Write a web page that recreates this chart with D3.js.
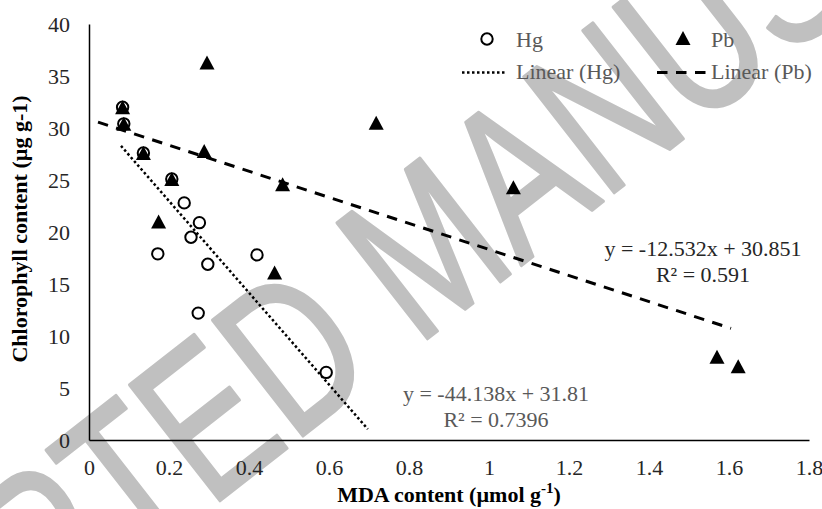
<!DOCTYPE html>
<html>
<head>
<meta charset="utf-8">
<script src="https://cdn.jsdelivr.net/npm/d3@7"></script>
<style>
  html, body { margin: 0; padding: 0; background: #fff; }
  svg { display: block; }
</style>
</head>
<body>
<div id="chart"></div>
<script>
// MDA content (x) vs chlorophyll content (y) for Hg- and Pb-treated samples
const hgX = [0.084, 0.087, 0.136, 0.207, 0.172, 0.238, 0.276, 0.255, 0.297, 0.420, 0.273, 0.593];
const hgY = [32.0, 30.4, 27.6, 25.1, 17.9, 22.8, 20.9, 19.5, 16.9, 17.8, 12.2, 6.5];

const pbX = [0.084, 0.087, 0.136, 0.207, 0.174, 0.288, 0.295, 0.464, 0.484, 0.718, 1.061, 1.570, 1.623];
const pbY = [32.0, 30.4, 27.6, 25.1, 21.0, 27.8, 36.3, 16.1, 24.6, 30.5, 24.3, 8.0, 7.1];

// Linear fits: [slope, intercept], R², and the x span each fit line covers
const hgFit = [-44.138, 31.81];
const hgR2 = "0.7396";
const hgFitSpan = [0.08, 0.697];
const pbFit = [-12.532, 30.851];
const pbR2 = "0.591";
const pbFitSpan = [0.0225, 1.605];

const xTicks = [0, 0.2, 0.4, 0.6, 0.8, 1, 1.2, 1.4, 1.6, 1.8];
const xTickLabels = ["0", "0.2", "0.4", "0.6", "0.8", "1", "1.2", "1.4", "1.6", "1.8"];
const yTicks = [0, 5, 10, 15, 20, 25, 30, 35, 40];
const yTickLabels = ["0", "5", "10", "15", "20", "25", "30", "35", "40"];

const seriesNames = ["Hg", "Pb"];

const W = 822, H = 509;
const serif = "'Liberation Serif', 'Times New Roman', serif";

const svg = d3.select("#chart").append("svg")
  .attr("width", W).attr("height", H)
  .attr("viewBox", `0 0 ${W} ${H}`);

const x = d3.scaleLinear().domain([0, 1.8]).range([89, 809]);
const y = d3.scaleLinear().domain([0, 40]).range([440, 24]);

// Watermark (tall, narrow lettering across the plot)
svg.append("text")
  .attr("transform", "translate(425,243) rotate(-38) scale(1,1.35)")
  .attr("text-anchor", "middle")
  .attr("dy", "0.36em")
  .attr("font-family", "'Liberation Sans', Arial, sans-serif")
  .attr("font-size", 158)
  .attr("fill", "#c0c0c0")
  .attr("stroke", "#c0c0c0")
  .attr("stroke-width", 2.5)
  .attr("stroke-linejoin", "round")
  .text("ACCEPTED MANUSCRIPT");

// Axes
const xAxis = d3.axisBottom(x)
  .tickValues(xTicks)
  .tickFormat((d, i) => xTickLabels[i])
  .tickSize(0).tickSizeOuter(0).tickPadding(19);
const yAxis = d3.axisLeft(y)
  .tickValues(yTicks)
  .tickFormat((d, i) => yTickLabels[i])
  .tickSize(0).tickSizeOuter(0).tickPadding(19);

const gx = svg.append("g").attr("transform", `translate(0,${y(0)})`).call(xAxis);
const gy = svg.append("g").attr("transform", `translate(${x(0)},0)`).call(yAxis);
[gx, gy].forEach(g => {
  g.select(".domain").attr("stroke", "#000").attr("stroke-width", 1.5);
  g.selectAll("text")
    .attr("font-family", serif)
    .attr("font-size", 22)
    .attr("fill", "#262626");
});

// Axis titles
const xTitle = svg.append("text")
  .attr("x", 449)
  .attr("y", 502)
  .attr("text-anchor", "middle")
  .attr("font-family", serif)
  .attr("font-size", 22)
  .attr("font-weight", "bold")
  .attr("fill", "#000");
xTitle.append("tspan").text("MDA content (µmol g");
xTitle.append("tspan").attr("font-size", 15).attr("dy", -9).text("-1");
xTitle.append("tspan").attr("dy", 9).text(")");

svg.append("text")
  .attr("transform", "translate(27,229) rotate(-90)")
  .attr("text-anchor", "middle")
  .attr("font-family", serif)
  .attr("font-size", 22)
  .attr("font-weight", "bold")
  .attr("fill", "#000")
  .text("Chlorophyll content (µg g-1)");

// Fit lines
const fitLine = (fit, span) => span.map(v => [x(v), y(fit[0] * v + fit[1])]);
const line = d3.line();

svg.append("path")
  .attr("d", line(fitLine(hgFit, hgFitSpan)))
  .attr("fill", "none")
  .attr("stroke", "#000")
  .attr("stroke-width", 2.5)
  .attr("stroke-dasharray", "2.5,2.5");

svg.append("path")
  .attr("d", line(fitLine(pbFit, pbFitSpan)))
  .attr("fill", "none")
  .attr("stroke", "#000")
  .attr("stroke-width", 3)
  .attr("stroke-dasharray", "10.5,8.5");

// Markers
const triPath = "M0,-7L7.5,7L-7.5,7Z";

svg.append("g").selectAll("circle")
  .data(d3.zip(hgX, hgY))
  .join("circle")
  .attr("cx", d => x(d[0]))
  .attr("cy", d => y(d[1]))
  .attr("r", 5.7)
  .attr("fill", "#fff")
  .attr("stroke", "#000")
  .attr("stroke-width", 2);

svg.append("g").selectAll("path")
  .data(d3.zip(pbX, pbY))
  .join("path")
  .attr("transform", d => `translate(${x(d[0])},${y(d[1])})`)
  .attr("d", triPath)
  .attr("fill", "#000");

// Fit equations
const eqText = (fit, r2, cx, by, color) => {
  const t = svg.append("g")
    .attr("font-family", serif)
    .attr("font-size", 22)
    .attr("fill", color)
    .attr("text-anchor", "middle");
  const sign = fit[1] >= 0 ? "+" : "-";
  t.append("text").attr("x", cx).attr("y", by)
    .text(`y = ${fit[0]}x ${sign} ${Math.abs(fit[1])}`);
  t.append("text").attr("x", cx).attr("y", by + 26)
    .text(`R² = ${r2}`);
};
eqText(pbFit, pbR2, 703, 256, "#262626");
eqText(hgFit, hgR2, 496, 401, "#595959");

// Legend
const legend = svg.append("g")
  .attr("font-family", serif)
  .attr("font-size", 22)
  .attr("fill", "#595959");

legend.append("circle")
  .attr("cx", 487).attr("cy", 39).attr("r", 5.7)
  .attr("fill", "#fff").attr("stroke", "#000").attr("stroke-width", 2);
legend.append("text").attr("x", 516).attr("y", 47).text(seriesNames[0]);

legend.append("path")
  .attr("transform", "translate(683,38)")
  .attr("d", triPath).attr("fill", "#000");
legend.append("text").attr("x", 711).attr("y", 47).text(seriesNames[1]);

legend.append("line")
  .attr("x1", 462).attr("x2", 507).attr("y1", 72.5).attr("y2", 72.5)
  .attr("stroke", "#000").attr("stroke-width", 2.5)
  .attr("stroke-dasharray", "2.5,2.5");
legend.append("text").attr("x", 516).attr("y", 79).text(`Linear (${seriesNames[0]})`);

legend.append("line")
  .attr("x1", 657).attr("x2", 708).attr("y1", 72.5).attr("y2", 72.5)
  .attr("stroke", "#000").attr("stroke-width", 3)
  .attr("stroke-dasharray", "10.5,8.5");
legend.append("text").attr("x", 711).attr("y", 79).text(`Linear (${seriesNames[1]})`);
</script>
</body>
</html>
